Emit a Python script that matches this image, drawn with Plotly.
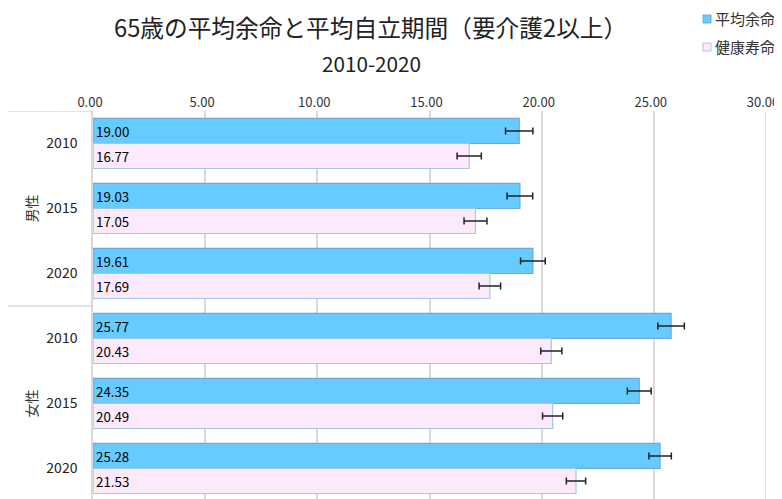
import plotly.graph_objects as go

years = ["2010", "2015", "2020", "2010", "2015", "2020"]
sexes = ["男性", "女性"]
series_names = ["平均余命", "健康寿命"]
life_expectancy = [19.00, 19.03, 19.61, 25.77, 24.35, 25.28]
healthy_life = [16.77, 17.05, 17.69, 20.43, 20.49, 21.53]
life_err = [0.61, 0.57, 0.55, 0.59, 0.53, 0.50]
healthy_err = [0.54, 0.51, 0.48, 0.47, 0.45, 0.43]
x_ticks = [0, 5, 10, 15, 20, 25, 30]

FONT = "Noto Sans CJK JP"
BLUE, BLUE_LINE = "#66CCFF", "#6FA8DC"
PINK, PINK_LINE = "#FCEAFC", "#A4C6E8"
GRID = "#D9D9D9"
pos = list(range(len(years)))

fig = go.Figure()
for name, vals, errs, fill, line in [
    (series_names[0], life_expectancy, life_err, BLUE, BLUE_LINE),
    (series_names[1], healthy_life, healthy_err, PINK, PINK_LINE),
]:
    fig.add_trace(go.Bar(
        y=pos, x=vals, orientation="h", name=name,
        marker=dict(color=fill, line=dict(color=line, width=1.2)),
        error_x=dict(type="data", array=errs, color="#222222", thickness=1.5, width=3.5),
        text=[f"{v:.2f}" for v in vals], textposition="inside",
        insidetextanchor="start", textangle=0,
        insidetextfont=dict(color="black", size=14, family=FONT),
        showlegend=False,
    ))

# page body has an ~8px margin; work in window pixels and offset
OFF = 8
WIN_W, WIN_H = 782, 499
FIG_W, FIG_H = WIN_W - OFF, WIN_H - OFF
PX0, PX1 = 93, 766
PT, PB = 111, 499
W = PX1 - PX0
H = PB - PT

def px_x(p):
    return (p - PX0) / W

def px_y(p):
    return (PB - p) / H

shapes = []
for yv in [-0.5, 2.5]:
    shapes.append(dict(type="line", xref="paper", yref="y", x0=px_x(8), x1=0, y0=yv, y1=yv,
                       line=dict(color=GRID, width=1.5)))
# gridline at the right edge of the range
shapes.append(dict(type="line", xref="x", yref="paper", x0=x_ticks[-1], x1=x_ticks[-1],
                   y0=0, y1=1, layer="below", line=dict(color=GRID, width=1.5)))

annotations = [
    dict(text="65歳の平均余命と平均自立期間（要介護2以上）", xref="paper", yref="paper",
         x=px_x(370.5), y=px_y(27), showarrow=False, xanchor="center", yanchor="middle",
         font=dict(size=23.7, family=FONT, color="#222")),
    dict(text="2010-2020", xref="paper", yref="paper",
         x=px_x(371.5), y=px_y(63), showarrow=False, xanchor="center", yanchor="middle",
         font=dict(size=20.7, family=FONT, color="#222")),
    dict(text=sexes[0], xref="paper", yref="y", x=px_x(19), y=1, textangle=-90,
         showarrow=False, font=dict(size=14, family=FONT, color="#333")),
    dict(text=sexes[1], xref="paper", yref="y", x=px_x(19), y=4, textangle=-90,
         showarrow=False, font=dict(size=14, family=FONT, color="#333")),
]

# manual legend
for i, (name, fill, line) in enumerate([(series_names[0], BLUE, BLUE_LINE),
                                         (series_names[1], PINK, PINK_LINE)]):
    cy = 19 + i * 28
    shapes.append(dict(type="rect", xref="paper", yref="paper",
                       x0=px_x(703), x1=px_x(711), y0=px_y(cy + 4), y1=px_y(cy - 4),
                       fillcolor=fill, line=dict(color=line, width=1)))
    annotations.append(dict(text=name, xref="paper", yref="paper", x=px_x(713), y=px_y(cy),
                            xanchor="left", yanchor="middle", showarrow=False,
                            font=dict(size=15, family=FONT, color="#333")))

fig.update_layout(
    width=FIG_W, height=FIG_H,
    margin=dict(l=PX0 - OFF, r=WIN_W - PX1, t=PT - OFF, b=WIN_H - PB, autoexpand=False),
    paper_bgcolor="white", plot_bgcolor="white",
    barmode="group", bargap=0.23, bargroupgap=0,
    font=dict(family=FONT, size=14, color="#333"),
    showlegend=False,
    shapes=shapes,
    annotations=annotations,
    xaxis=dict(side="top", range=[0, 30], tickvals=x_ticks,
               ticktext=[f"{v:.2f}" for v in x_ticks],
               showgrid=True, gridcolor=GRID, gridwidth=1.5,
               zeroline=False, showline=False, ticks="", automargin=False,
               ticklabeloverflow="allow", ticklabelshift=-3,
               tickfont=dict(size=13, family=FONT, color="#333")),
    yaxis=dict(range=[5.47, -0.5], tickvals=pos, ticktext=years,
               showgrid=False, zeroline=False, showline=True, linecolor=GRID,
               linewidth=1.5, ticks="", ticklabelstandoff=11, automargin=False,
               tickfont=dict(size=14, family=FONT, color="#222")),
)

fig.write_html("out.html")
